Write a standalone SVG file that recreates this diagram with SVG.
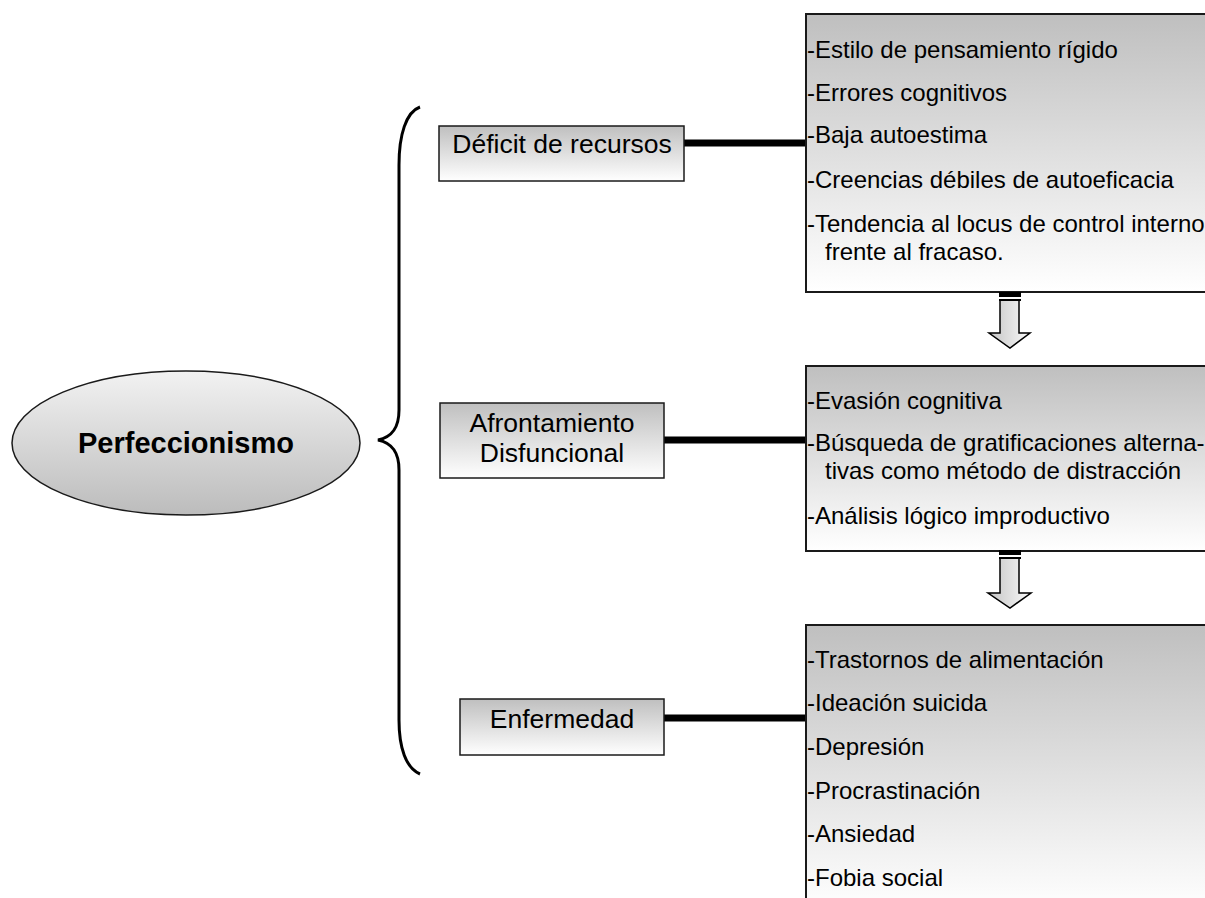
<svg xmlns="http://www.w3.org/2000/svg" width="1205" height="898" viewBox="0 0 1205 898">
  <defs>
    <linearGradient id="gv" x1="0" y1="0" x2="0" y2="1">
      <stop offset="0" stop-color="#bfbfbf"/>
      <stop offset="1" stop-color="#ffffff"/>
    </linearGradient>
    <linearGradient id="gell" x1="0" y1="0" x2="0" y2="1">
      <stop offset="0" stop-color="#f2f2f2"/>
      <stop offset="1" stop-color="#bcbcbc"/>
    </linearGradient>
    <linearGradient id="garr" x1="0" y1="0" x2="1" y2="0">
      <stop offset="0" stop-color="#c4c4c4"/>
      <stop offset="1" stop-color="#fafafa"/>
    </linearGradient>
  </defs>
  <style>
    .box { fill: url(#gv); stroke: #1a1a1a; stroke-width: 1.5; }
    .rbox { fill: url(#gv); stroke: #1a1a1a; stroke-width: 2; }
    .lbl { font-family: "Liberation Sans", Arial, sans-serif; font-size: 26.5px; fill: #000; text-anchor: middle; }
    .item { font-family: "Liberation Sans", Arial, sans-serif; font-size: 24px; fill: #000; }
    .conn { stroke: #000; stroke-width: 7; fill: none; }
    .arrow { fill: url(#garr); stroke: #000; stroke-width: 1.5; }
  </style>
  <rect width="1205" height="898" fill="#ffffff"/>

  <g id="perfeccionismo">
    <ellipse cx="186" cy="443" rx="174" ry="72" fill="url(#gell)" stroke="#1a1a1a" stroke-width="1.5"/>
    <text x="186" y="453" class="lbl" style="font-weight:bold;font-size:29px">Perfeccionismo</text>
  </g>

  <g id="brace">
    <path d="M420,107 C406,112 399,135 399,165 L399,410 C399,428 392,437 378,440 C392,443 399,452 399,470 L399,720 C399,748 406,768 420,774" fill="none" stroke="#000" stroke-width="3"/>
  </g>

  <g id="connectors">
    <line class="conn" x1="684" y1="143" x2="806" y2="143"/>
    <line class="conn" x1="664" y1="440" x2="806" y2="440"/>
    <line class="conn" x1="664" y1="718" x2="806" y2="718"/>
  </g>

  <g id="deficit">
    <rect class="box" x="439" y="126" width="245" height="55"/>
    <text x="562" y="153" class="lbl">Déficit de recursos</text>
  </g>

  <g id="afrontamiento">
    <rect class="box" x="440" y="403" width="224" height="75"/>
    <text x="552" y="432" class="lbl">Afrontamiento</text>
    <text x="552" y="462" class="lbl">Disfuncional</text>
  </g>

  <g id="enfermedad">
    <rect class="box" x="460" y="699" width="204" height="56"/>
    <text x="562" y="728" class="lbl">Enfermedad</text>
  </g>

  <g id="lista-deficit">
    <rect class="rbox" x="806" y="14" width="420" height="278"/>
    <text x="807" y="58" class="item">-Estilo de pensamiento rígido</text>
    <text x="807" y="101" class="item">-Errores cognitivos</text>
    <text x="807" y="143" class="item">-Baja autoestima</text>
    <text x="807" y="188" class="item">-Creencias débiles de autoeficacia</text>
    <text x="807" y="232" class="item">-Tendencia al locus de control interno</text>
    <text x="825" y="260" class="item">frente al fracaso.</text>
  </g>

  <g id="flecha-1">
    <polygon class="arrow" points="1000,299 1019,299 1019,333 1030,333 1010,348 989,333 1000,333"/>
    <rect x="999" y="292" width="22" height="5" fill="#000"/>
    <rect x="999" y="297" width="22" height="2" fill="#fff"/>
    <rect x="999" y="299" width="22" height="2" fill="#000"/>
  </g>

  <g id="lista-afrontamiento">
    <rect class="rbox" x="806" y="366" width="420" height="185"/>
    <text x="807" y="409" class="item">-Evasión cognitiva</text>
    <text x="807" y="451" class="item">-Búsqueda de gratificaciones alterna-</text>
    <text x="825" y="479" class="item">tivas como método de distracción</text>
    <text x="807" y="524" class="item">-Análisis lógico improductivo</text>
  </g>

  <g id="flecha-2">
    <polygon class="arrow" points="1000,558 1019,558 1019,593 1031,593 1010,608 988,593 1000,593"/>
    <rect x="999" y="550" width="22" height="5" fill="#000"/>
    <rect x="999" y="555" width="22" height="2" fill="#fff"/>
    <rect x="999" y="557" width="22" height="2" fill="#000"/>
  </g>

  <g id="lista-enfermedad">
    <rect class="rbox" x="806" y="625" width="420" height="285"/>
    <text x="807" y="668" class="item">-Trastornos de alimentación</text>
    <text x="807" y="711" class="item">-Ideación suicida</text>
    <text x="807" y="755" class="item">-Depresión</text>
    <text x="807" y="799" class="item">-Procrastinación</text>
    <text x="807" y="842" class="item">-Ansiedad</text>
    <text x="807" y="886" class="item">-Fobia social</text>
  </g>
</svg>
